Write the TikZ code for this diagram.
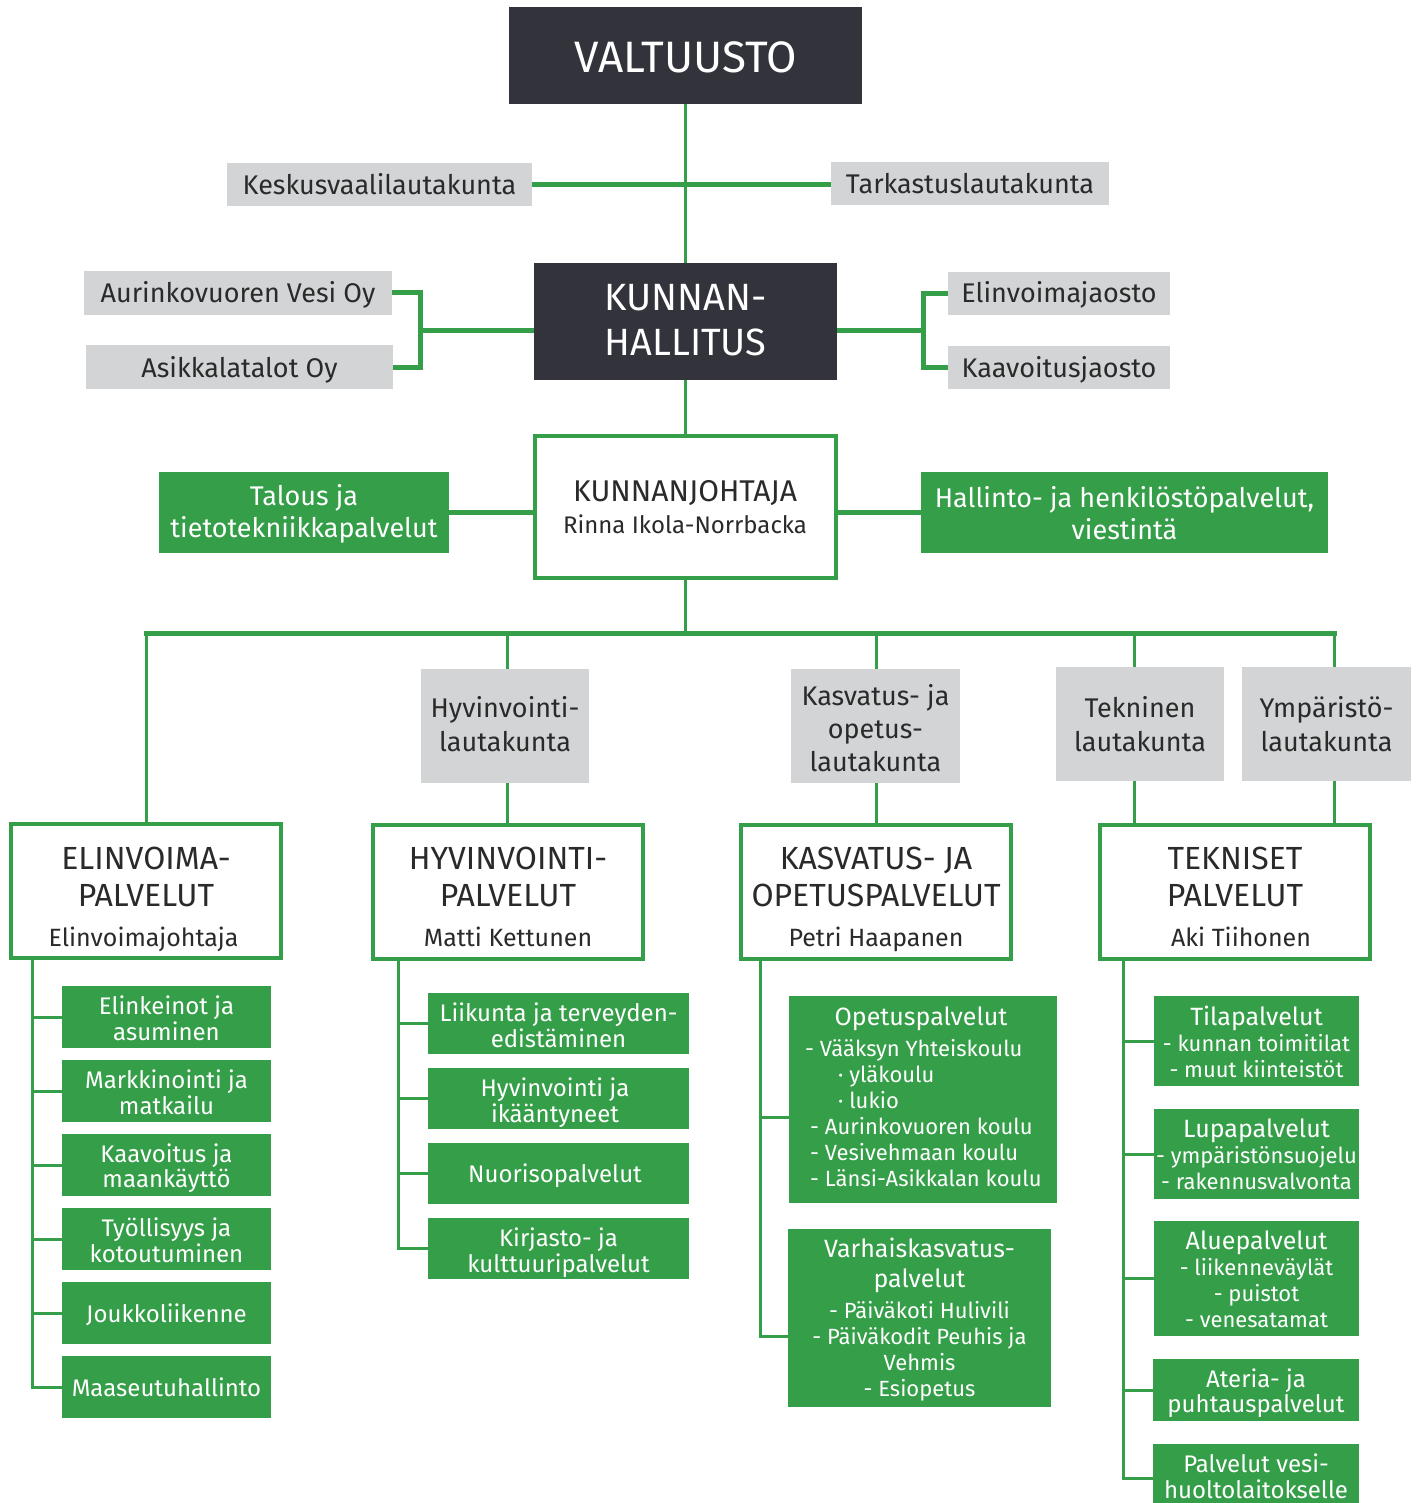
\documentclass[tikz,border=0pt]{standalone}
\usepackage{fontspec}
\setmainfont{Fira Sans}
\usetikzlibrary{calc}
\definecolor{grn}{HTML}{359E48}
\definecolor{dark}{HTML}{32333B}
\definecolor{lgray}{HTML}{D3D4D6}
\definecolor{ink}{HTML}{2A2A2A}
\newcommand\mlines[1]{\begin{tabular}[t]{@{}c@{}}#1\end{tabular}}
\newcommand\llines[1]{\begin{tabular}[t]{@{}l@{}}#1\end{tabular}}
\newcommand\fz[2]{\fontsize{#1}{#2}\selectfont}
\newcommand\bx[6]{\node[#1, minimum width={(#5-#3)*1pt}, minimum height={(#6-#4)*1pt}] (#2) at ({(#3+#5)/2},{(#4+#6)/2}) {};}
\tikzset{
  base/.style={inner sep=0pt, outer sep=0pt, rectangle},
  dbox/.style={base, fill=dark},
  gbox/.style={base, fill=lgray},
  gnbox/.style={base, fill=grn},
  wbox/.style={base, fill=white, draw=grn, line width=4pt},
  wt/.style={inner sep=0pt, text=white, anchor=base},
  dt/.style={inner sep=0pt, text=ink, anchor=base},
  ln/.style={draw=grn, line width=3pt},
  lnb/.style={draw=grn, line width=5pt},
}
\begin{document}
\begin{tikzpicture}[x=1pt,y=-1pt]
\fill[white] (0,0) rectangle (1415,1503);
\useasboundingbox (0,0) rectangle (1415,1503);

% ---------- top level ----------
\bx{dbox}{valt}{509}{7}{862}{104}
\node[wt, font=\fz{44}{50}] (valtT) at (685.5,73) {VALTUUSTO};

\bx{gbox}{kesk}{227}{163}{532}{206}
\node[dt, font=\fz{27}{32}] (keskT) at (379.5,195) {Keskusvaalilautakunta};
\bx{gbox}{tark}{831}{162}{1109}{205}
\node[dt, font=\fz{27}{32}] (tarkT) at (970,194) {Tarkastuslautakunta};

\bx{dbox}{kh}{534}{263}{837}{380}
\node[wt, font=\fz{38}{45}] (khT) at (685.5,310) {\mlines{KUNNAN-\\HALLITUS}};

\bx{gbox}{aur}{84}{271}{392}{315}
\node[dt, font=\fz{27}{32}] (aurT) at (238,303) {Aurinkovuoren Vesi Oy};
\bx{gbox}{asi}{86}{345}{393}{389}
\node[dt, font=\fz{27}{32}] (asiT) at (239.5,377) {Asikkalatalot Oy};
\bx{gbox}{elj}{948}{272}{1170}{315}
\node[dt, font=\fz{27}{32}] (eljT) at (1059,303) {Elinvoimajaosto};
\bx{gbox}{kaj}{948}{346}{1170}{389}
\node[dt, font=\fz{27}{32}] (kajT) at (1059,377) {Kaavoitusjaosto};

\bx{wbox}{kj}{534.5}{435.5}{835.5}{577.5}
\node[dt, font=\fz{30}{36}] (kjT) at (685,501) {KUNNANJOHTAJA};
\node[dt, font=\fz{24}{28}] (kjN) at (685,533) {Rinna Ikola-Norrbacka};

\bx{gnbox}{tal}{159}{472}{449}{553}
\node[wt, font=\fz{27}{32}] (talT) at (304,505) {\mlines{Talous ja\\tietotekniikkapalvelut}};
\bx{gnbox}{hal}{921}{472}{1328}{553}
\node[wt, font=\fz{27}{32}] (halT) at (1124.5,507) {\mlines{Hallinto- ja henkilöstöpalvelut,\\viestintä}};

% ---------- lautakunnat ----------
\bx{gbox}{hla}{421}{669}{589}{783}
\node[dt, font=\fz{27}{34}] (hlaT) at (505,717) {\mlines{Hyvinvointi-\\lautakunta}};
\bx{gbox}{kla}{791}{669}{960}{783}
\node[dt, font=\fz{27}{33}] (klaT) at (875.5,705) {\mlines{Kasvatus- ja\\opetus-\\lautakunta}};
\bx{gbox}{tla}{1056}{667}{1224}{781}
\node[dt, font=\fz{27}{34}] (tlaT) at (1140,717) {\mlines{Tekninen\\lautakunta}};
\bx{gbox}{yla}{1242}{667}{1411}{781}
\node[dt, font=\fz{27}{34}] (ylaT) at (1326.5,717) {\mlines{Ympäristö-\\lautakunta}};

% ---------- toimialat ----------
\bx{wbox}{elv}{11}{824}{281}{958}
\node[dt, font=\fz{32}{37.5}] (elvT) at (146,869) {\mlines{ELINVOIMA-\\PALVELUT}};
\node[dt, font=\fz{25}{30}] (elvN) at (143.5,946) {Elinvoimajohtaja};
\bx{wbox}{hyv}{373}{825}{643}{959}
\node[dt, font=\fz{32}{37.5}] (hyvT) at (508,869) {\mlines{HYVINVOINTI-\\PALVELUT}};
\node[dt, font=\fz{25}{30}] (hyvN) at (508,946) {Matti Kettunen};
\bx{wbox}{kas}{741}{825}{1011}{959}
\node[dt, font=\fz{32}{37.5}] (kasT) at (876,869) {\mlines{KASVATUS- JA\\OPETUSPALVELUT}};
\node[dt, font=\fz{25}{30}] (kasN) at (876,946) {Petri Haapanen};
\bx{wbox}{tek}{1100}{825}{1370}{959}
\node[dt, font=\fz{32}{37.5}] (tekT) at (1235,869) {\mlines{TEKNISET\\PALVELUT}};
\node[dt, font=\fz{25}{30}] (tekN) at (1241,946) {Aki Tiihonen};

% ---------- elinvoima items ----------
\bx{gnbox}{e1}{62}{986}{271}{1048}
\node[wt, font=\fz{24}{25}] (e1T) at (166.5,1014) {\mlines{Elinkeinot ja\\asuminen}};
\bx{gnbox}{e2}{62}{1060}{271}{1122}
\node[wt, font=\fz{24}{25}] (e2T) at (166.5,1088) {\mlines{Markkinointi ja\\matkailu}};
\bx{gnbox}{e3}{62}{1134}{271}{1196}
\node[wt, font=\fz{24}{25}] (e3T) at (166.5,1162) {\mlines{Kaavoitus ja\\maankäyttö}};
\bx{gnbox}{e4}{62}{1208}{271}{1270}
\node[wt, font=\fz{24}{25}] (e4T) at (166.5,1236) {\mlines{Työllisyys ja\\kotoutuminen}};
\bx{gnbox}{e5}{62}{1282}{271}{1344}
\node[wt, font=\fz{24}{25}] (e5T) at (166.5,1322) {Joukkoliikenne};
\bx{gnbox}{e6}{62}{1356}{271}{1418}
\node[wt, font=\fz{24}{25}] (e6T) at (166.5,1396) {Maaseutuhallinto};

% ---------- hyvinvointi items ----------
\bx{gnbox}{h1}{428}{993}{689}{1054}
\node[wt, font=\fz{24}{25}] (h1T) at (558.5,1021) {\mlines{Liikunta ja terveyden-\\edistäminen}};
\bx{gnbox}{h2}{428}{1068}{689}{1129}
\node[wt, font=\fz{24}{25}] (h2T) at (555,1096) {\mlines{Hyvinvointi ja\\ikääntyneet}};
\bx{gnbox}{h3}{428}{1143}{689}{1204}
\node[wt, font=\fz{24}{25}] (h3T) at (555,1182) {Nuorisopalvelut};
\bx{gnbox}{h4}{428}{1218}{689}{1279}
\node[wt, font=\fz{24}{25}] (h4T) at (558.5,1246) {\mlines{Kirjasto- ja\\kulttuuripalvelut}};

% ---------- kasvatus items ----------
\bx{gnbox}{op}{789}{996}{1057}{1203}
\node[wt, font=\fz{25}{30}] (opT) at (921,1025) {Opetuspalvelut};
\node[wt, font=\fz{22}{26}, anchor=base west] (opL) at (805,1056) {\llines{- Vääksyn Yhteiskoulu\\
\hspace*{33pt}· yläkoulu\\
\hspace*{33pt}· lukio\\
\hspace*{5pt}- Aurinkovuoren koulu\\
\hspace*{5pt}- Vesivehmaan koulu\\
\hspace*{5pt}- Länsi-Asikkalan koulu}};
\bx{gnbox}{vh}{788}{1229}{1051}{1407}
\node[wt, font=\fz{25}{30}] (vhT) at (919.5,1257) {\mlines{Varhaiskasvatus-\\palvelut}};
\node[wt, font=\fz{22}{26}] (vhL) at (919.5,1318) {\mlines{- Päiväkoti Hulivili\\- Päiväkodit Peuhis ja\\Vehmis\\- Esiopetus}};

% ---------- tekniset items ----------
\bx{gnbox}{t1}{1154}{996}{1359}{1086}
\node[wt, font=\fz{22}{26}] (t1T) at (1256.5,1025) {\mlines{{\fz{25}{26}Tilapalvelut}\\- kunnan toimitilat\\- muut kiinteistöt}};
\bx{gnbox}{t2}{1154}{1109}{1359}{1199}
\node[wt, font=\fz{22}{26}] (t2T) at (1256.5,1137) {\mlines{{\fz{25}{26}Lupapalvelut}\\- ympäristönsuojelu\\- rakennusvalvonta}};
\bx{gnbox}{t3}{1154}{1221}{1359}{1336}
\node[wt, font=\fz{22}{26}] (t3T) at (1256.5,1249) {\mlines{{\fz{25}{26}Aluepalvelut}\\- liikenneväylät\\- puistot\\- venesatamat}};
\bx{gnbox}{t4}{1153}{1359}{1359}{1421}
\node[wt, font=\fz{24}{25}] (t4T) at (1256,1387) {\mlines{Ateria- ja\\puhtauspalvelut}};
\bx{gnbox}{t5}{1153}{1444}{1359}{1512}
\node[wt, font=\fz{24}{25}] (t5T) at (1256,1472) {\mlines{Palvelut vesi-\\huoltolaitokselle}};

% ---------- connectors: top ----------
\draw[ln] (valt.south) -- (kh.north);
\draw[lnb] (kesk.east) -- (kesk.east -| tark.west);
\coordinate (bl) at (420,330);
\coordinate (br) at (923,330);
\draw[lnb] (aur.east) -| (bl) |- (asi.east);
\draw[lnb] (bl) -- (bl -| kh.west);
\draw[lnb] (elj.west) -| (br) |- (kaj.west);
\draw[lnb] (br) -- (br -| kh.east);
\draw[ln] (kh.south) -- (kh.south |- kj.north);
\draw[lnb] (tal.east) -- (tal.east -| kj.west);
\draw[lnb] (hal.west) -- (hal.west -| kj.east);

% ---------- bus ----------
\coordinate (bus) at (685.5,633);
\coordinate (b1) at (146,633);
\coordinate (b2) at (507,633);
\coordinate (b3) at (876,633);
\coordinate (b4) at (1134,633);
\coordinate (b5) at (1334,633);
\draw[ln] (bus |- kj.south) -- (bus);
\draw[lnb, line cap=rect] (b1) -- (b5);
\draw[ln] (b1) -- (b1 |- elv.north);
\draw[ln] (b2) -- (b2 |- hla.north);
\draw[ln] (b2 |- hla.south) -- (b2 |- hyv.north);
\draw[ln] (b3) -- (b3 |- kla.north);
\draw[ln] (b3 |- kla.south) -- (b3 |- kas.north);
\draw[ln] (b4) -- (b4 |- tla.north);
\draw[ln] (b4 |- tla.south) -- (b4 |- tek.north);
\draw[ln] (b5) -- (b5 |- yla.north);
\draw[ln] (b5 |- yla.south) -- (b5 |- tek.north);

% ---------- sub connectors ----------
\coordinate (ev) at (32,960);
\draw[ln] (ev) |- (e6.west);
\foreach \n in {e1,e2,e3,e4,e5} \draw[ln] (\n.west) -- (\n.west -| ev);
\coordinate (hv) at (398,961);
\draw[ln] (hv) |- (h4.west);
\foreach \n in {h1,h2,h3} \draw[ln] (\n.west) -- (\n.west -| hv);
\coordinate (kv) at (760,961);
\coordinate (kb1) at (760,1117);
\coordinate (kb2) at (760,1336);
\draw[ln] (kv) -- (kb2) -- (kb2 -| vh.west);
\draw[ln] (kb1) -- (kb1 -| op.west);
\coordinate (tv) at (1123,961);
\draw[ln] (tv) |- (t5.west);
\foreach \n in {t1,t2,t3,t4} \draw[ln] (\n.west) -- (\n.west -| tv);
\end{tikzpicture}
\end{document}
